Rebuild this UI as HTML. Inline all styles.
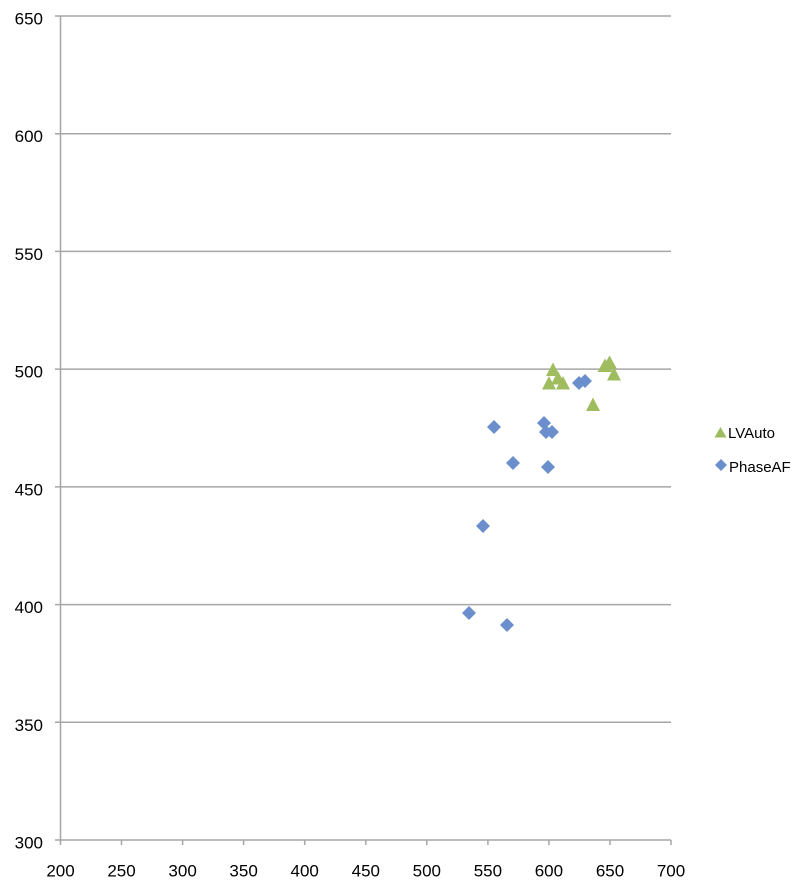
<!DOCTYPE html>
<html><head><meta charset="utf-8"><style>
html,body{margin:0;padding:0;background:#fff;}
svg{display:block;}
text{font-family:"Liberation Sans",sans-serif;fill:#000;}
</style></head><body>
<svg width="800" height="883" viewBox="0 0 800 883" xmlns="http://www.w3.org/2000/svg">
<g stroke="#a6a6a6" stroke-width="1.5" fill="none">
<line x1="55" y1="16" x2="671" y2="16"/>
<line x1="55" y1="133.7" x2="671" y2="133.7"/>
<line x1="55" y1="251.4" x2="671" y2="251.4"/>
<line x1="55" y1="369.1" x2="671" y2="369.1"/>
<line x1="55" y1="486.9" x2="671" y2="486.9"/>
<line x1="55" y1="604.6" x2="671" y2="604.6"/>
<line x1="55" y1="722.3" x2="671" y2="722.3"/>
<line x1="55" y1="840" x2="671" y2="840"/>
<line x1="60.5" y1="16" x2="60.5" y2="845"/>
<line x1="121.5" y1="840" x2="121.5" y2="845"/>
<line x1="182.6" y1="840" x2="182.6" y2="845"/>
<line x1="243.6" y1="840" x2="243.6" y2="845"/>
<line x1="304.7" y1="840" x2="304.7" y2="845"/>
<line x1="365.8" y1="840" x2="365.8" y2="845"/>
<line x1="426.8" y1="840" x2="426.8" y2="845"/>
<line x1="487.9" y1="840" x2="487.9" y2="845"/>
<line x1="548.9" y1="840" x2="548.9" y2="845"/>
<line x1="610" y1="840" x2="610" y2="845"/>
<line x1="671" y1="840" x2="671" y2="845"/>
</g>
<g font-size="17" text-anchor="end">
<text x="43" y="24.5">650</text>
<text x="43" y="142.2">600</text>
<text x="43" y="259.9">550</text>
<text x="43" y="377.6">500</text>
<text x="43" y="495.4">450</text>
<text x="43" y="613.1">400</text>
<text x="43" y="730.8">350</text>
<text x="43" y="848.5">300</text>
</g>
<g font-size="17" text-anchor="middle">
<text x="60.5" y="876.5">200</text>
<text x="121.5" y="876.5">250</text>
<text x="182.6" y="876.5">300</text>
<text x="243.6" y="876.5">350</text>
<text x="304.7" y="876.5">400</text>
<text x="365.8" y="876.5">450</text>
<text x="426.8" y="876.5">500</text>
<text x="487.9" y="876.5">550</text>
<text x="548.9" y="876.5">600</text>
<text x="610" y="876.5">650</text>
<text x="671" y="876.5">700</text>
</g>
<g fill="#6b8fcc">
<path d="M494 420l7 7l-7 7l-7-7z"/>
<path d="M544 416l7 7l-7 7l-7-7z"/>
<path d="M546 425l7 7l-7 7l-7-7z"/>
<path d="M552 425l7 7l-7 7l-7-7z"/>
<path d="M513 456l7 7l-7 7l-7-7z"/>
<path d="M548 460l7 7l-7 7l-7-7z"/>
<path d="M483 519l7 7l-7 7l-7-7z"/>
<path d="M469 606l7 7l-7 7l-7-7z"/>
<path d="M507 618l7 7l-7 7l-7-7z"/>
<path d="M579 376l7 7l-7 7l-7-7z"/>
<path d="M585 374l7 7l-7 7l-7-7z"/>
</g>
<g fill="#9fbd5f">
<path d="M593 397.5l7 13.5h-14z"/>
<path d="M553 362.5l7 13.5h-14z"/>
<path d="M549 376l7 13.5h-14z"/>
<path d="M563 376l7 13.5h-14z"/>
<path d="M558 371l7 13.5h-14z"/>
<path d="M605 358.5l7.5 13.5h-15z"/>
<path d="M609.5 355.5l7.5 13.5h-15z"/>
<path d="M614 367l7 13.5h-14z"/>
</g>
<path d="M720.5 427l6 10.5h-12z" fill="#9fbd5f"/>
<text x="728" y="438" font-size="15">LVAuto</text>
<path d="M721 459l6 6l-6 6l-6-6z" fill="#6b8fcc"/>
<text x="729" y="472" font-size="15">PhaseAF</text>
</svg>
</body></html>
